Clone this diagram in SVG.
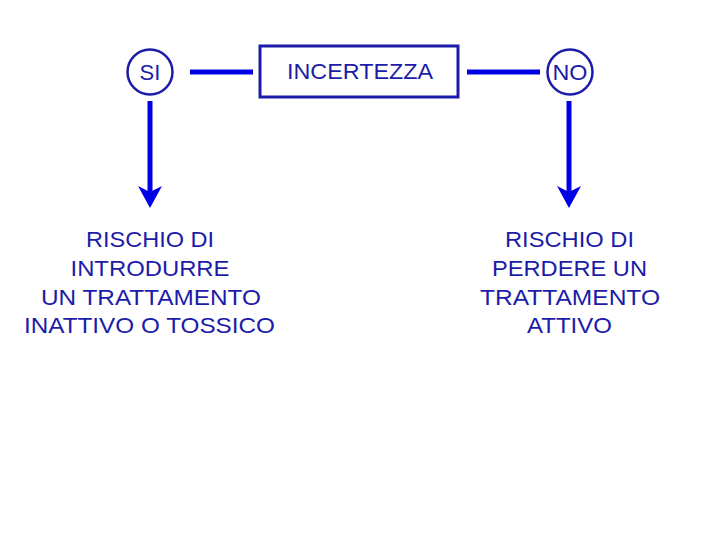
<svg xmlns="http://www.w3.org/2000/svg" width="720" height="540" viewBox="0 0 720 540">
<defs>
<style>
.t{font-family:"Liberation Sans",Arial,sans-serif;font-size:22px;fill:#1c1ca8;text-anchor:middle}
.n{fill:#fff;stroke:#1c1ca8;stroke-width:2.5}
.c{stroke:#0000e6;stroke-width:5;fill:none}
.h{fill:#0000e6}
</style>
</defs>
<rect width="720" height="540" fill="#fff"/>
<g id="connectors">
<line class="c" x1="190" y1="72" x2="253" y2="72"/>
<line class="c" x1="467" y1="72" x2="540" y2="72"/>
<line class="c" x1="150" y1="101" x2="150" y2="195"/>
<path class="h" d="M150,208 L138,186 L150,192 L162,186 Z"/>
<line class="c" x1="569" y1="101" x2="569" y2="195"/>
<path class="h" d="M569,208 L557,186 L569,192 L581,186 Z"/>
</g>
<g id="si">
<circle class="n" cx="150" cy="72" r="22.5"/>
<text class="t" x="150" y="80" font-size="21">SI</text>
</g>
<g id="incertezza">
<rect x="260" y="46" width="198" height="51" fill="#fff" stroke="#1c1ca8" stroke-width="3"/>
<text class="t" x="360" y="79" textLength="146" lengthAdjust="spacingAndGlyphs">INCERTEZZA</text>
</g>
<g id="no">
<circle class="n" cx="570" cy="72" r="22.5"/>
<text class="t" x="570" y="80" textLength="35" lengthAdjust="spacingAndGlyphs">NO</text>
</g>
<g id="rischio-introdurre">
<text class="t" x="150" y="247" textLength="128" lengthAdjust="spacingAndGlyphs">RISCHIO DI</text>
<text class="t" x="150" y="276" textLength="159" lengthAdjust="spacingAndGlyphs">INTRODURRE</text>
<text class="t" x="151" y="305" textLength="220" lengthAdjust="spacingAndGlyphs">UN TRATTAMENTO</text>
<text class="t" x="149.5" y="333" textLength="251" lengthAdjust="spacingAndGlyphs">INATTIVO O TOSSICO</text>
</g>
<g id="rischio-perdere">
<text class="t" x="569.5" y="247" textLength="129" lengthAdjust="spacingAndGlyphs">RISCHIO DI</text>
<text class="t" x="569.5" y="276" textLength="155" lengthAdjust="spacingAndGlyphs">PERDERE UN</text>
<text class="t" x="570" y="305" textLength="180" lengthAdjust="spacingAndGlyphs">TRATTAMENTO</text>
<text class="t" x="569.5" y="333" textLength="85" lengthAdjust="spacingAndGlyphs">ATTIVO</text>
</g>
</svg>
